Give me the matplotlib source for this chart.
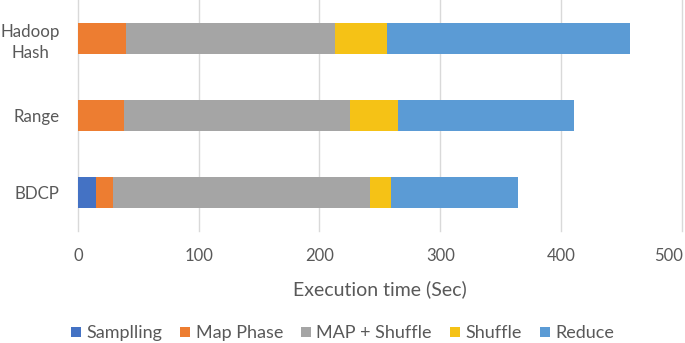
import matplotlib
matplotlib.use("Agg")
import matplotlib.pyplot as plt
import numpy as np

plt.rcParams['font.family'] = ['Lato', 'DejaVu Sans']

categories = ["Hadoop\nHash", "Range", "BDCP"]
series_names = ["Samplling", "Map Phase", "MAP + Shuffle", "Shuffle", "Reduce"]
sampling = [0, 0, 15]
map_phase = [40, 38, 14]
map_shuffle = [173, 187, 213]
shuffle = [43, 40, 17]
reduce_ = [201, 146, 105]
xticks = [0, 100, 200, 300, 400, 500]
colors = ["#4472C4", "#ED7D31", "#A5A5A5", "#F5C216", "#5B9BD5"]

series = [sampling, map_phase, map_shuffle, shuffle, reduce_]

fig = plt.figure(figsize=(6.85, 3.43), dpi=100)
ax = fig.add_axes([0.1136, 0.3265, 0.882, 0.6735])

y = np.arange(len(categories))
left = np.zeros(len(categories))
for name, vals, c in zip(series_names, series, colors):
    ax.barh(y, vals, left=left, height=0.4, color=c, label=name, zorder=3)
    left += np.array(vals)

ax.set_ylim(len(categories) - 0.5, -0.5)
ax.set_xlim(0, 500)
ax.set_xticks(xticks)
# last label is drawn separately, shifted left so it stays inside the figure
ax.set_xticklabels([str(t) for t in xticks[:-1]] + [""])
ax.annotate(str(xticks[-1]), xy=(xticks[-1], 0), xycoords=ax.get_xaxis_transform(),
            xytext=(-9.5, -12), textcoords='offset points', ha='center', va='top',
            fontsize=12, color='#595959')
ax.set_yticks(y)
ax.set_yticklabels(categories, ha='right', multialignment='center', linespacing=1.35)
ax.tick_params(axis='y', length=0, pad=13, labelsize=12.2, labelcolor='#595959')
ax.tick_params(axis='x', length=0, pad=12, labelsize=12, labelcolor='#595959')
ax.grid(axis='x', color='#D9D9D9', linewidth=1, zorder=0)
for gl in ax.get_xgridlines():
    gl.set_clip_on(False)
for s in ax.spines.values():
    s.set_visible(False)
ax.set_xlabel("Execution time (Sec)", fontsize=14, color='#595959', labelpad=12)

fig.legend(loc='center', bbox_to_anchor=(0.5, 0.028), ncol=5, frameon=False,
           fontsize=13, handlelength=0.55, handleheight=0.55, handletextpad=0.3,
           columnspacing=1.0, labelcolor='#595959')

fig.savefig("out.png", dpi=100)
